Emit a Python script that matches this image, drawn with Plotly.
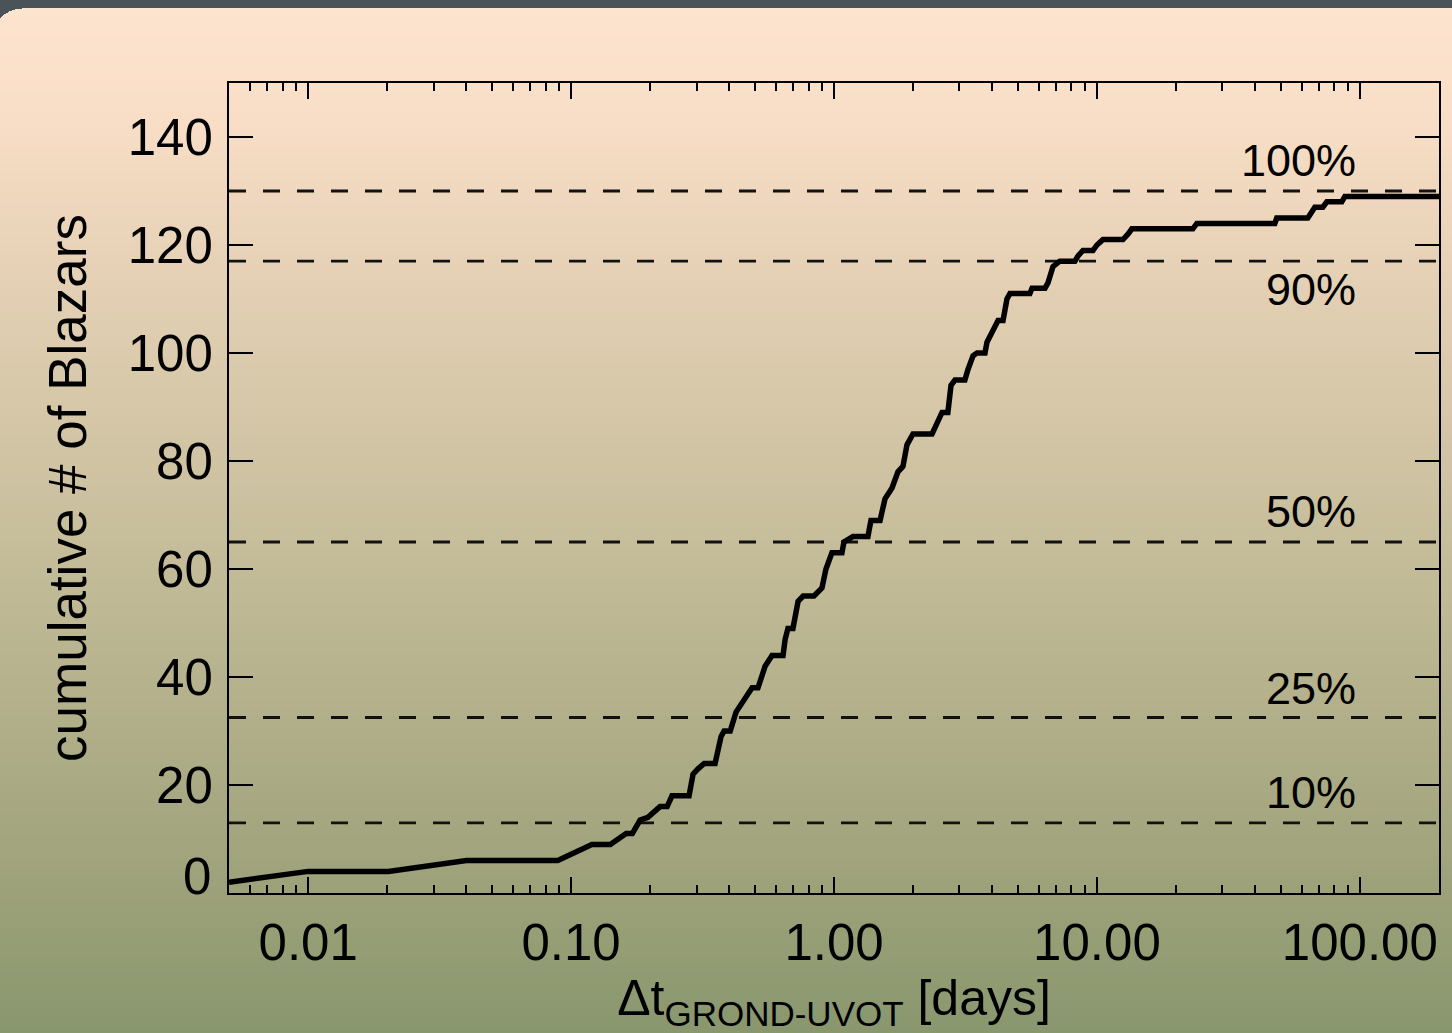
import base64
import struct
import zlib

import numpy as np
import plotly.graph_objects as go

# ---------------- data ----------------
dt_days = [0.005, 0.010, 0.0202, 0.040, 0.089, 0.120, 0.141, 0.162, 0.171, 0.183,
           0.196, 0.218, 0.232, 0.242, 0.281, 0.291, 0.304, 0.321, 0.353, 0.372,
           0.382, 0.403, 0.424, 0.443, 0.488, 0.514, 0.547, 0.581, 0.640, 0.652,
           0.668, 0.698, 0.730, 0.763, 0.839, 0.900, 0.932, 0.982, 1.072, 1.091,
           1.181, 1.346, 1.382, 1.497, 1.563, 1.662, 1.751, 1.829, 1.895, 1.997,
           2.360, 2.466, 2.576, 2.711, 2.786, 2.885, 3.147, 3.235, 3.380, 3.497,
           3.752, 3.818, 4.027, 4.206, 4.395, 4.548, 4.669, 5.559, 5.664, 6.345,
           6.513, 6.803, 7.228, 8.245, 8.477, 8.851, 9.661, 10.00, 10.54, 12.56,
           13.12, 13.58, 23.17, 23.99, 47.5, 48.3, 63.4, 65.6, 67.4, 72.3,
           74.9, 85.4, 87.7, 200.0]
cum_blazars = [2, 4, 4, 6, 6, 9, 9, 11, 11, 13.5,
               14, 16, 16, 18, 18, 22, 23, 24, 24, 29,
               30, 30, 33.5, 35, 38, 38, 42, 44, 44, 47,
               49, 49, 54, 55, 55, 56.5, 60, 63, 63, 65,
               66, 66, 69, 69, 73, 75, 78, 79, 83, 85,
               85, 87, 89, 89, 94, 95, 95, 97, 99.5, 100,
               100, 102, 104, 106, 106, 110, 111, 111, 112, 112,
               113, 116, 117, 117, 118, 119, 119, 120, 121, 121,
               122, 123, 123, 124, 124, 125, 125, 126, 127, 127,
               128, 128, 129, 129]

total_blazars = 130
percent_levels = [10, 25, 50, 90, 100]
percent_labels = ["10%", "25%", "50%", "90%", "100%"]
percent_label_y = [18.7, 37.8, 70.7, 111.7, 135.7]

x_tick_vals = [0.01, 0.1, 1, 10, 100]
x_tick_text = ["0.01", "0.10", "1.00", "10.00", "100.00"]
y_tick_vals = [20, 40, 60, 80, 100, 120, 140]
y_tick_text = ["20", "40", "60", "80", "100", "120", "140"]

# ---------------- background image (gradient panel) ----------------
W, H = 1452, 1033
stops_y = [8, 120, 230, 560, 880, 1033]
stops_c = [(253, 228, 207), (248, 222, 198), (234, 212, 186),
           (196, 188, 153), (158, 162, 122), (137, 151, 110)]
gray = (74, 84, 88)


def grad(y):
    r = [int(round(np.interp(y, stops_y, [c[i] for c in stops_c]))) for i in range(3)]
    return tuple(r)


rows = []
cx, cy, rad = 22.0, 38.0, 30.0
for y in range(H):
    if y < 8:
        rows.append(bytes(gray) * W)
        continue
    col = grad(y)
    if y < cy:
        px = []
        for x in range(W):
            if x < cx and (x - cx) ** 2 + (y - cy) ** 2 > rad ** 2:
                px.append(bytes(gray))
            else:
                px.append(bytes(col))
        rows.append(b"".join(px))
    else:
        rows.append(bytes(col) * W)


def make_png(w, h, rws):
    raw = b"".join(b"\x00" + r for r in rws)

    def chunk(t, d):
        c = struct.pack(">I", len(d)) + t + d
        return c + struct.pack(">I", zlib.crc32(t + d) & 0xFFFFFFFF)

    return (b"\x89PNG\r\n\x1a\n"
            + chunk(b"IHDR", struct.pack(">IIBBBBB", w, h, 8, 2, 0, 0, 0))
            + chunk(b"IDAT", zlib.compress(raw, 9))
            + chunk(b"IEND", b""))


png_uri = "data:image/png;base64," + base64.b64encode(make_png(W, H, rows)).decode()

# ---------------- figure ----------------
ML, MR, MT, MB = 229, 13, 83, 140
PW, PH = W - ML - MR, H - MT - MB
FONT = "Liberation Sans, Arial, Helvetica, sans-serif"

fig = go.Figure()

x_min, x_max = 0.005, 200
for lvl in percent_levels:
    fig.add_trace(go.Scatter(
        x=[x_min, x_max], y=[total_blazars * lvl / 100.0] * 2,
        mode="lines", line=dict(color="#111111", width=2.8, dash="17px,17px"),
        hoverinfo="skip", showlegend=False))

fig.add_trace(go.Scatter(
    x=dt_days, y=cum_blazars, mode="lines",
    line=dict(color="black", width=5.5), showlegend=False))

for lab, ly in zip(percent_labels, percent_label_y):
    fig.add_annotation(x=np.log10(98.2), y=ly, xref="x", yref="y", text=lab,
                       showarrow=False, xanchor="right", yanchor="middle",
                       font=dict(family=FONT, size=45, color="black"))

# "0" tick label (drawn slightly above the axis like the original)
fig.add_annotation(x=-16 / PW, y=3, xref="paper", yref="y", text="0",
                   showarrow=False, xanchor="right", yanchor="middle",
                   font=dict(family=FONT, size=51, color="black"))

minor_vals = [k * 10.0 ** n for n in range(-3, 3) for k in range(2, 10)]

fig.update_xaxes(
    type="log", range=[np.log10(x_min), np.log10(x_max)],
    tickvals=x_tick_vals, ticktext=x_tick_text,
    ticks="inside", ticklen=16, tickwidth=2, tickcolor="black",
    minor=dict(tickvals=minor_vals, ticks="inside", ticklen=8, tickwidth=2, tickcolor="black"),
    showline=True, linecolor="black", linewidth=2, mirror="allticks",
    showgrid=False, zeroline=False,
    tickfont=dict(family=FONT, size=51, color="black"),
    ticklabelstandoff=4,
    title=dict(text="Δt<sub>GROND-UVOT</sub> [days]",
               font=dict(family=FONT, size=50, color="black"), standoff=22),
)
fig.update_yaxes(
    range=[0, 150], tickvals=y_tick_vals, ticktext=y_tick_text,
    ticks="inside", ticklen=24, tickwidth=2, tickcolor="black",
    showline=True, linecolor="black", linewidth=2, mirror="allticks",
    showgrid=False, zeroline=False,
    tickfont=dict(family=FONT, size=51, color="black"),
    ticklabelstandoff=4,
    title=dict(text="cumulative # of Blazars",
               font=dict(family=FONT, size=53, color="black"), standoff=24),
)

fig.add_layout_image(dict(
    source=png_uri, xref="paper", yref="paper",
    x=-ML / PW, y=1 + MT / PH, sizex=W / PW, sizey=H / PH,
    xanchor="left", yanchor="top", sizing="stretch", layer="below"))

fig.update_layout(
    width=W, height=H,
    margin=dict(l=ML, r=MR, t=MT, b=MB, autoexpand=False),
    paper_bgcolor="rgb(74,84,88)", plot_bgcolor="rgba(0,0,0,0)",
    font=dict(family=FONT, color="black"),
)

fig.write_html("out.html",
               config={"displayModeBar": False},
               post_script="document.body.style.margin='0px';"
                           "document.body.style.overflow='hidden';")
